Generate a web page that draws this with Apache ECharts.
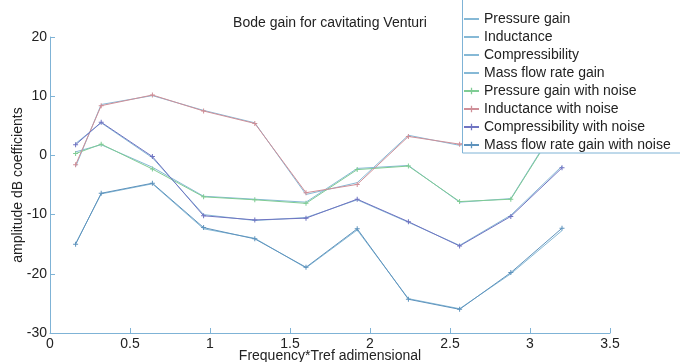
<!DOCTYPE html>
<html>
<head>
<meta charset="utf-8">
<script src="https://cdn.jsdelivr.net/npm/echarts@6/dist/echarts.min.js"></script>
<style>
html,body{margin:0;padding:0;background:#fff;}
#c{width:680px;height:362px;}
</style>
</head>
<body>
<div id="c"></div>
<script>
var freq = [0.16, 0.32, 0.64, 0.96, 1.28, 1.6, 1.92, 2.24, 2.56, 2.88, 3.2];
var pressureGain = [0.6, 1.8, -2.0, -6.9, -7.4, -7.9, -2.2, -1.7, -7.9, -7.3, 6.5];
var inductance = [-1.9, 8.6, 10.1, 7.6, 5.5, -6.6, -4.6, 3.4, 1.7, 3.5, 6.0];
var compressibility = [2.0, 5.5, -0.4, -10.0, -11.0, -10.5, -7.5, -11.3, -15.2, -10.1, -1.8];
var massFlow = [-14.9, -6.5, -4.8, -12.4, -14.0, -19.0, -12.6, -24.2, -25.9, -20.0, -12.7];
var pressureGainNoise = [0.3, 1.9, -2.3, -7.0, -7.5, -8.1, -2.4, -1.8, -7.8, -7.4, 6.3];
var inductanceNoise = [-1.6, 8.4, 10.2, 7.5, 5.4, -6.3, -4.9, 3.2, 1.9, 3.8, 5.8];
var compressibilityNoise = [1.8, 5.6, -0.2, -10.2, -10.9, -10.6, -7.4, -11.2, -15.3, -10.3, -2.1];
var massFlowNoise = [-15.0, -6.4, -4.7, -12.2, -14.1, -18.9, -12.4, -24.3, -26.0, -19.8, -12.3];
var seriesNames = ['Pressure gain', 'Inductance', 'Compressibility', 'Mass flow rate gain',
  'Pressure gain with noise', 'Inductance with noise', 'Compressibility with noise', 'Mass flow rate gain with noise'];
var xTicks = [0, 0.5, 1, 1.5, 2, 2.5, 3, 3.5];
var yTicks = [-30, -20, -10, 0, 10, 20];

function pairs(ys) { return freq.map(function (x, i) { return [x, ys[i]]; }); }
var plus = 'path://M4,0h2v4h4v2h-4v4h-2v-4h-4v-2h4z';
var baseColor = '#86b9d6';
var noiseColors = ['#7fcc94', '#cf8f98', '#6f74c2', '#5e93bd'];
var allData = [pressureGain, inductance, compressibility, massFlow,
  pressureGainNoise, inductanceNoise, compressibilityNoise, massFlowNoise];

var series = allData.map(function (d, i) {
  var noisy = i >= 4;
  var col = noisy ? noiseColors[i - 4] : baseColor;
  return {
    name: seriesNames[i],
    type: 'line',
    data: pairs(d),
    symbol: noisy ? plus : 'none',
    symbolSize: 5,
    showSymbol: noisy,
    lineStyle: { color: col, width: 1 },
    itemStyle: { color: col },
    z: noisy ? 4 : 3,
    animation: false
  };
});

var legendData = seriesNames.map(function (n, i) {
  return i < 4 ? { name: n, itemStyle: { opacity: 0 } } : { name: n };
});

var font = 'Liberation Sans, Arial, sans-serif';
var axisCol = '#7fb3d6';
var chart = echarts.init(document.getElementById('c'));
chart.setOption({
  animation: false,
  backgroundColor: '#fff',
  title: {
    text: 'Bode gain for cavitating Venturi',
    left: 330, top: 16, textAlign: 'center', padding: 0,
    textStyle: { fontFamily: font, fontSize: 14, fontWeight: 'normal', color: '#222' }
  },
  grid: { left: 50, right: 70, top: 37, bottom: 29, containLabel: false, outerBoundsMode: 'none' },
  xAxis: {
    type: 'value', min: 0, max: 3.5, interval: 0.5,
    name: 'Frequency*Tref adimensional', nameLocation: 'middle', nameGap: 16, nameMoveOverlap: false,
    nameTextStyle: { fontFamily: font, fontSize: 14, color: '#222' },
    axisLine: { show: true, onZero: false, lineStyle: { color: axisCol, width: 1 } },
    axisTick: { show: true, inside: true, length: 5, lineStyle: { color: axisCol } },
    axisLabel: { margin: 4, fontFamily: font, fontSize: 14, color: '#222',
      formatter: function (v) { return xTicks.indexOf(v) >= 0 ? String(v) : ''; } },
    splitLine: { show: false }
  },
  yAxis: {
    type: 'value', min: -30, max: 20, interval: 10,
    name: 'amplitude dB coefficients', nameLocation: 'middle', nameGap: 25, nameRotate: 90, nameMoveOverlap: false,
    nameTextStyle: { fontFamily: font, fontSize: 14, color: '#222' },
    axisLine: { show: true, onZero: false, lineStyle: { color: axisCol, width: 1 } },
    axisTick: { show: true, inside: true, length: 5, lineStyle: { color: axisCol } },
    axisLabel: { margin: 3, fontFamily: font, fontSize: 14, color: '#222',
      formatter: function (v) { return yTicks.indexOf(v) >= 0 ? String(v) : ''; } },
    splitLine: { show: false }
  },
  graphic: [{
    type: 'rect', z: 50,
    shape: { x: 462.5, y: -5, width: 240, height: 158 },
    style: { fill: '#fff', stroke: axisCol, lineWidth: 1 }
  }],
  legend: {
    z: 100,
    orient: 'vertical', left: 463, top: 10, padding: 0,
    itemWidth: 15, itemHeight: 8, itemGap: 0,
    data: legendData,
    textStyle: { fontFamily: font, fontSize: 14, color: '#222', lineHeight: 18 }
  },
  series: series
});
</script>
</body>
</html>
